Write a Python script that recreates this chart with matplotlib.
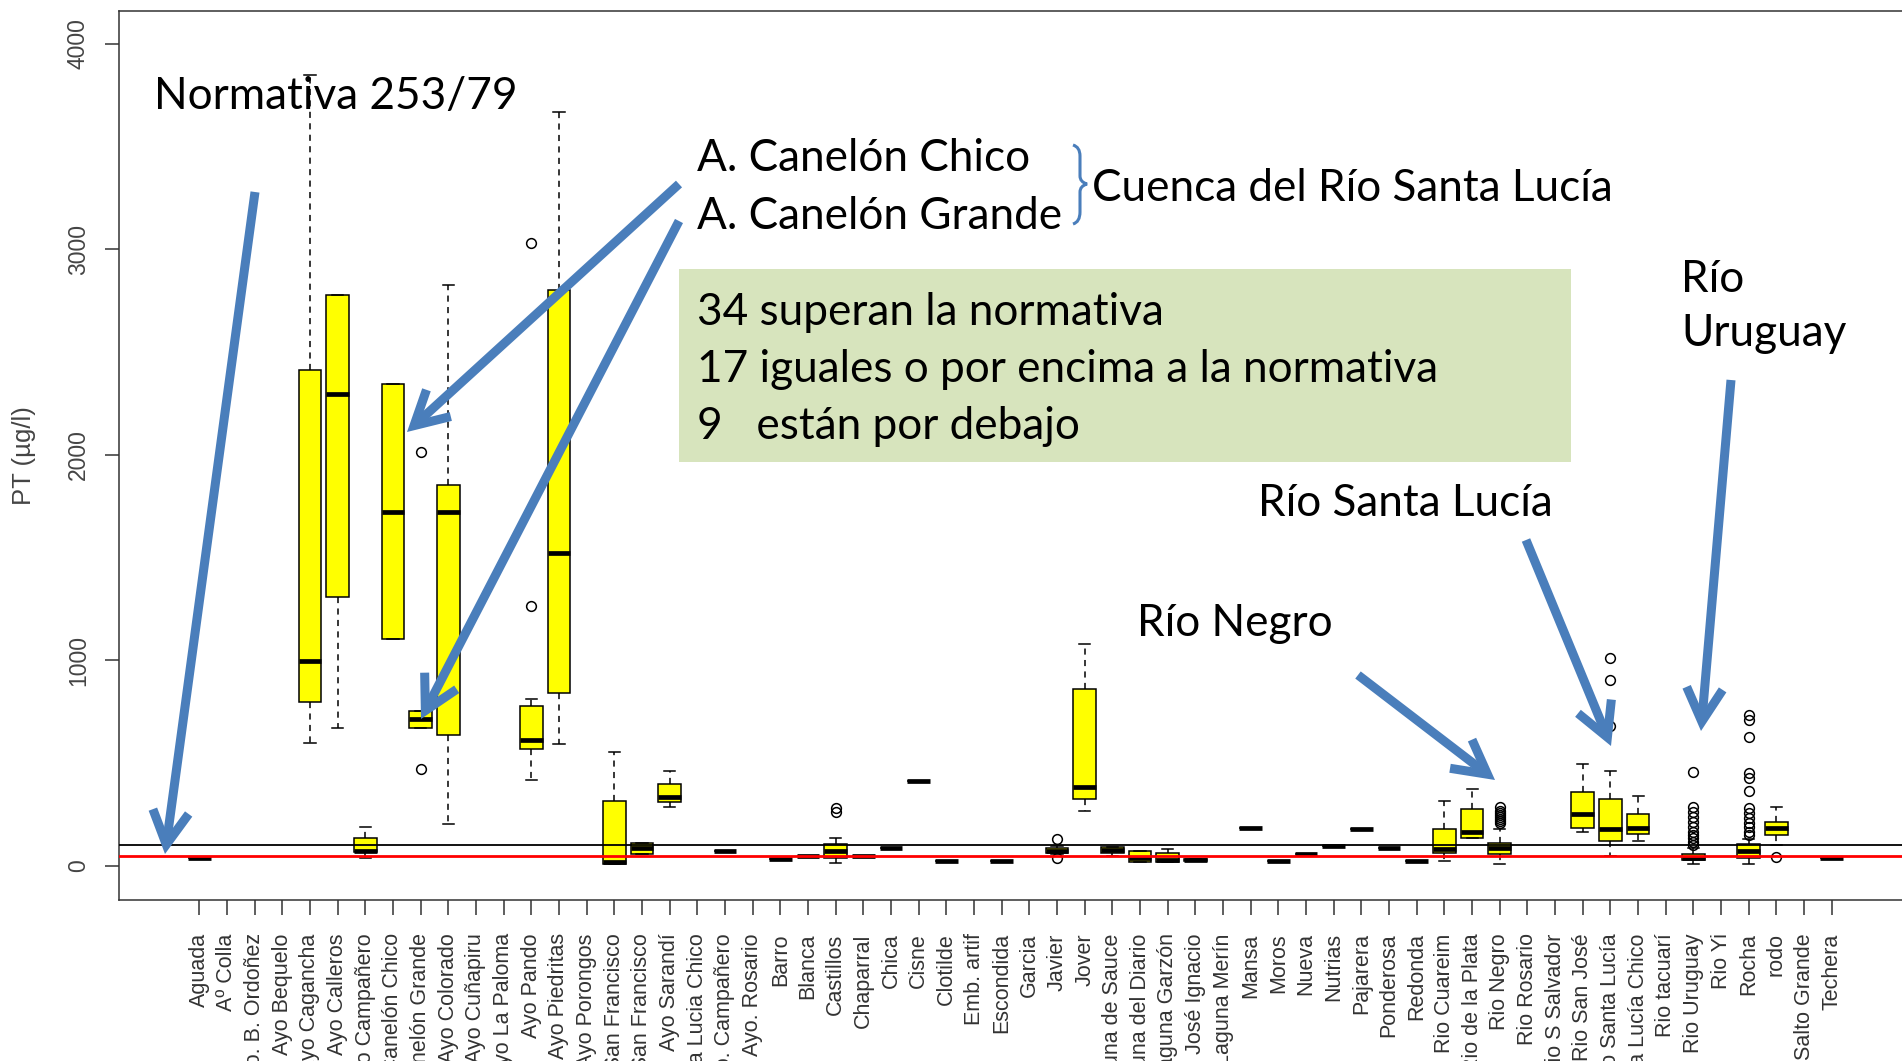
import numpy as np
import matplotlib
matplotlib.use("Agg")
import matplotlib.pyplot as plt
from matplotlib.patches import FancyArrowPatch, Rectangle, PathPatch
from matplotlib.path import Path

W, H = 1902, 1061

# Sampling sites (x axis)
sites = [
    "Aguada", "Aº Colla", "Ayo. B. Ordoñez", "Ayo Bequelo", "Ayo Cagancha",
    "Ayo Calleros", "Ayo Campañero", "Ayo Canelón Chico", "Ayo Canelón Grande",
    "Ayo Colorado", "Ayo Cuñapiru", "Ayo La Paloma", "Ayo Pando", "Ayo Piedritas",
    "Ayo Porongos", "Ayo San Francisco", "Ayo. San Francisco", "Ayo Sarandí",
    "Ayo Santa Lucia Chico", "Ayo. Campañero", "Ayo. Rosario", "Barro", "Blanca",
    "Castillos", "Chaparral", "Chica", "Cisne", "Clotilde", "Emb. artif",
    "Escondida", "Garcia", "Javier", "Jover", "Laguna de Sauce",
    "Laguna del Diario", "Laguna Garzón", "José Ignacio", "Laguna Merín",
    "Mansa", "Moros", "Nueva", "Nutrias", "Pajarera", "Ponderosa", "Redonda",
    "Rio Cuareim", "Rio de la Plata", "Rio Negro", "Rio Rosario",
    "Rio S Salvador", "Rio San José", "Rio Santa Lucía", "Rio Santa Lucía Chico",
    "Rio tacuarí", "Rio Uruguay", "Rio Yi", "Rocha", "rodo", "Salto Grande",
    "Techera",
]

N = None
# Box statistics of total phosphorus (µg/l) per site; None = no data
whis_lo = [37, N, N, N, 599, 673, 40, 1106, 673, 206, N, N, 420, 592, N, 8, 58, 286,
           N, 73, N, 33, 48, 16, 48, 89, 415, 24, N, 24, N, 60, 269, 49, 21, 21, 24,
           N, 186, 24, 58, 97, 179, 89, 24, 24, 138, 8, N, N, 164, 49, 122, N, 8, N,
           8, 102, N, 40]
q1 = [37, N, N, N, 800, 1307, 67, 1106, 673, 639, N, N, 568, 842, N, 12, 58, 310,
      N, 73, N, 33, 48, 40, 48, 89, 415, 24, N, 24, N, 65, 324, 62, 21, 21, 24,
      N, 186, 24, 58, 97, 179, 89, 24, 62, 138, 58, N, N, 187, 122, 154, N, 29, N,
      40, 151, N, 40]
med = [37, N, N, N, 998, 2298, 75, 1723, 713, 1723, N, N, 615, 1523, N, 18, 86, 337,
       N, 73, N, 33, 48, 74, 48, 89, 415, 24, N, 24, N, 75, 383, 78, 37, 30, 29,
       N, 186, 24, 58, 97, 179, 89, 24, 81, 164, 86, N, N, 255, 179, 186, N, 40, N,
       74, 183, N, 40]
q3 = [37, N, N, N, 2414, 2779, 138, 2346, 752, 1855, N, N, 779, 2805, N, 318, 113, 401,
      N, 73, N, 33, 48, 106, 48, 89, 415, 24, N, 24, N, 86, 860, 94, 74, 65, 34,
      N, 186, 24, 58, 97, 179, 89, 24, 179, 276, 113, N, N, 359, 326, 252, N, 58, N,
      106, 213, N, 40]
whis_hi = [37, N, N, N, 3850, 2779, 191, 2346, 752, 2829, N, N, 811, 3667, N, 553, 113, 464,
           N, 73, N, 33, 48, 138, 48, 89, 415, 24, N, 24, N, 95, 1079, 94, 74, 81, 34,
           N, 186, 24, 58, 97, 179, 89, 24, 316, 373, 179, N, N, 496, 464, 341, N, 86, N,
           130, 286, N, 40]

# Outlying samples
outliers = {
    "Ayo Canelón Grande": [473, 2013],
    "Ayo Pando": [1267, 3034],
    "Castillos": [265, 280],
    "Javier": [37, 130],
    "Rio Negro": [210, 220, 230, 240, 250, 260, 270, 285],
    "Rio Santa Lucía": [680, 905, 1014],
    "Rio Uruguay": [102, 118, 134, 150, 167, 190, 213, 240, 264, 289, 456],
    "Rocha": [150, 165, 191, 208, 232, 256, 281, 366, 427, 451, 629, 710, 735],
    "rodo": [45],
}

yticks = [0, 1000, 2000, 3000, 4000]
norma_hi = 100   # black reference line
norma_lo = 50    # red reference line

fig = plt.figure(figsize=(W / 100, H / 100), dpi=100)
fig.patch.set_facecolor("white")

ax = fig.add_axes([119 / W, (H - 900) / H, 1 - 119 / W, (900 - 10.7) / H])

stats, pos = [], []
for i, name in enumerate(sites):
    if med[i] is None:
        continue
    stats.append(dict(label=name, whislo=whis_lo[i], q1=q1[i], med=med[i],
                      q3=q3[i], whishi=whis_hi[i], fliers=outliers.get(name, [])))
    pos.append(i + 1)

ax.bxp(stats, positions=pos, widths=0.82, patch_artist=True, capwidths=0.4,
       boxprops=dict(facecolor="#ffff00", edgecolor="black", linewidth=1.1),
       medianprops=dict(color="black", linewidth=3.4, solid_capstyle="butt"),
       whiskerprops=dict(color="black", linewidth=1.1, linestyle=(0, (4, 3.5))),
       capprops=dict(color="black", linewidth=1.1),
       flierprops=dict(marker="o", markerfacecolor="none", markeredgecolor="black",
                       markersize=7, markeredgewidth=1.1),
       manage_ticks=False, zorder=2)

ax.axhline(norma_hi, color="black", linewidth=1.3, zorder=3)
ax.axhline(norma_lo, color="#ff0000", linewidth=2.0, zorder=3)

ax.set_xlim(-1.902, 62.54)
ax.set_ylim(-165.5, 4162)

ax.set_xticks(range(1, len(sites) + 1))
ax.set_xticklabels(sites, rotation=90, va="top", ha="center",
                   fontsize=15.5, family="Liberation Sans", color="#333333")
ax.set_yticks(yticks)
ax.set_yticklabels([str(v) for v in yticks], rotation=90, va="center",
                   fontsize=16.5, family="Liberation Sans", color="#444444")
ax.tick_params(axis="x", length=11, width=1.1, pad=13, color="#333333")
ax.tick_params(axis="y", length=10, width=1.1, pad=11, color="#333333")
ax.set_ylabel("PT (µg/l)", fontsize=18.5, family="Liberation Sans",
              color="#444444", labelpad=22)
for side in ("left", "top", "bottom"):
    ax.spines[side].set_color("#333333")
    ax.spines[side].set_linewidth(1.1)
ax.spines["right"].set_visible(False)


def fx(px):
    return px / W


def fy(py):
    return 1 - py / H


blue = "#4a7ebb"
font = "Lato"

# Green summary panel
fig.add_artist(Rectangle((fx(679), fy(462)), fx(1571) - fx(679), fy(269) - fy(462),
                         transform=fig.transFigure, facecolor="#d7e4bd",
                         edgecolor="none", zorder=5))

texts = [
    ("Normativa 253/79", 154, 109),
    ("A. Canelón Chico", 697, 171),
    ("A. Canelón Grande", 697, 229),
    ("Cuenca del Río Santa Lucía", 1092, 201),
    ("34 superan la normativa", 697, 325),
    ("17 iguales o por encima a la normativa", 697, 382),
    ("9   están por debajo", 697, 439),
    ("Río", 1681, 292),
    ("Uruguay", 1681, 346),
    ("Río Santa Lucía", 1258, 516),
    ("Río Negro", 1137, 636),
]
for s, x, y in texts:
    fig.text(fx(x), fy(y), s, fontsize=31.8, family=font, color="black",
             ha="left", va="baseline", zorder=6)

# Blue pointer arrows
arrows = [
    ((255, 192), (165, 854)),
    ((679, 184), (407, 432)),
    ((679, 221), (421, 719)),
    ((1358, 675), (1495, 780)),
    ((1526, 540), (1611, 746)),
    ((1731, 380), (1701, 731)),
]
for (x0, y0), (x1, y1) in arrows:
    fig.add_artist(FancyArrowPatch((fx(x0), fy(y0)), (fx(x1), fy(y1)),
                                   transform=fig.transFigure,
                                   arrowstyle="->,head_length=1.2,head_width=0.65",
                                   mutation_scale=20, color=blue, linewidth=6.5,
                                   shrinkA=0, shrinkB=0, capstyle="butt",
                                   joinstyle="miter", zorder=7))

# Brace grouping the two Canelón streams
bx = [(1073, 145), (1080, 147), (1080, 156), (1080, 176), (1080, 182), (1087, 184),
      (1080, 186), (1080, 192), (1080, 212), (1080, 222), (1073, 224)]
codes = [Path.MOVETO, Path.CURVE3, Path.CURVE3, Path.LINETO, Path.CURVE3, Path.CURVE3,
         Path.CURVE3, Path.CURVE3, Path.LINETO, Path.CURVE3, Path.CURVE3]
brace = Path([(fx(x), fy(y)) for x, y in bx], codes)
fig.add_artist(PathPatch(brace, transform=fig.transFigure, facecolor="none",
                         edgecolor=blue, linewidth=2.2, zorder=7))

fig.savefig("out.png", dpi=100, facecolor="white")
